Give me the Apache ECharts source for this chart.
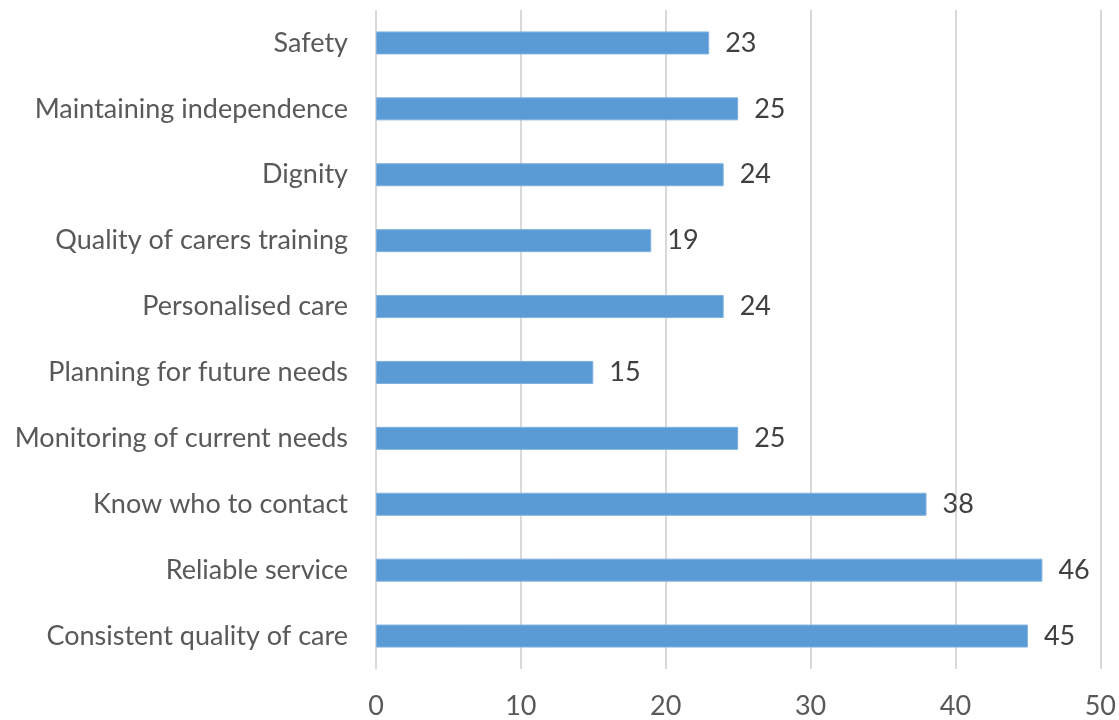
<!DOCTYPE html>
<html>
<head>
<meta charset="utf-8">
<script src="https://cdn.jsdelivr.net/npm/echarts@6/dist/echarts.min.js"></script>
<style>
  html, body { margin: 0; padding: 0; background: #ffffff; }
  #chart { width: 1119px; height: 720px; }
</style>
</head>
<body>
<div id="chart"></div>
<script>
// Categories listed bottom-to-top (category axis on y starts at the bottom)
const categories = [
  'Consistent quality of care',
  'Reliable service',
  'Know who to contact',
  'Monitoring of current needs',
  'Planning for future needs',
  'Personalised care',
  'Quality of carers training',
  'Dignity',
  'Maintaining independence',
  'Safety'
];
const values = [45, 46, 38, 25, 15, 24, 19, 24, 25, 23];
const axisMin = 0;
const axisMax = 50;
const axisStep = 10;

const FONT = 'Lato, "Open Sans", sans-serif';

const chart = echarts.init(document.getElementById('chart'), null, { renderer: 'canvas' });
chart.setOption({
  animation: false,
  grid: { left: 376, right: 18, top: 10, bottom: 50, containLabel: false },
  xAxis: {
    type: 'value',
    min: axisMin,
    max: axisMax,
    interval: axisStep,
    axisLine: { show: false },
    axisTick: { show: false },
    axisLabel: { color: '#595959', fontFamily: FONT, fontSize: 27, margin: 24 },
    splitLine: { show: true, lineStyle: { color: '#d9d9d9', width: 2 } }
  },
  yAxis: {
    type: 'category',
    data: categories,
    axisLine: { show: false },
    axisTick: { show: false },
    axisLabel: { color: '#595959', fontFamily: FONT, fontSize: 27, margin: 28 }
  },
  series: [{
    type: 'bar',
    data: values,
    barWidth: 23,
    itemStyle: { color: '#5b9bd5', borderColor: '#7fb1df', borderWidth: 1 },
    label: {
      show: true,
      position: 'right',
      distance: 16,
      color: '#404040',
      fontFamily: FONT,
      fontSize: 27
    }
  }]
});
</script>
</body>
</html>
